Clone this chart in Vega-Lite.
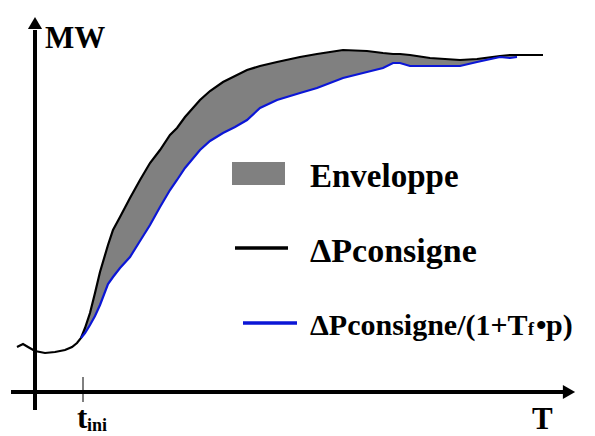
{
  "$schema": "https://vega.github.io/schema/vega-lite/v6.json",
  "width": 595,
  "height": 436,
  "padding": 0,
  "autosize": {"type": "none"},
  "background": "white",
  "config": {"view": {"stroke": null}},
  "datasets": {
    "courbes": [
      {"t": 17, "consigne": 89, "filtre": null},
      {"t": 23, "consigne": 92, "filtre": null},
      {"t": 28, "consigne": 89, "filtre": null},
      {"t": 35, "consigne": 85, "filtre": null},
      {"t": 45, "consigne": 83, "filtre": null},
      {"t": 55, "consigne": 84, "filtre": null},
      {"t": 65, "consigne": 86, "filtre": null},
      {"t": 72, "consigne": 89, "filtre": null},
      {"t": 77, "consigne": 93, "filtre": null},
      {"t": 81, "consigne": 98, "filtre": 98},
      {"t": 85, "consigne": 108, "filtre": 103},
      {"t": 90, "consigne": 123, "filtre": 111},
      {"t": 95, "consigne": 143, "filtre": 120},
      {"t": 100, "consigne": 164, "filtre": 131},
      {"t": 108, "consigne": 191, "filtre": 152},
      {"t": 113, "consigne": 206, "filtre": 159},
      {"t": 120, "consigne": 219, "filtre": 168},
      {"t": 130, "consigne": 238, "filtre": 179},
      {"t": 140, "consigne": 256, "filtre": 195},
      {"t": 150, "consigne": 273, "filtre": 211},
      {"t": 160, "consigne": 286, "filtre": 229},
      {"t": 170, "consigne": 301, "filtre": 246},
      {"t": 177, "consigne": 308, "filtre": 256},
      {"t": 185, "consigne": 319, "filtre": 268},
      {"t": 200, "consigne": 336, "filtre": 286},
      {"t": 210, "consigne": 345, "filtre": 295},
      {"t": 223, "consigne": 354, "filtre": 303},
      {"t": 235, "consigne": 360, "filtre": 309},
      {"t": 247, "consigne": 366, "filtre": 316},
      {"t": 260, "consigne": 370, "filtre": 328},
      {"t": 277, "consigne": 374, "filtre": 336},
      {"t": 300, "consigne": 379, "filtre": 343},
      {"t": 317, "consigne": 382, "filtre": 348},
      {"t": 343, "consigne": 386, "filtre": 358},
      {"t": 367, "consigne": 385, "filtre": 364},
      {"t": 383, "consigne": 383, "filtre": 368},
      {"t": 393, "consigne": 382, "filtre": 373},
      {"t": 400, "consigne": 382, "filtre": 373},
      {"t": 410, "consigne": 381, "filtre": 370},
      {"t": 430, "consigne": 378, "filtre": 370},
      {"t": 460, "consigne": 376, "filtre": 370},
      {"t": 477, "consigne": 377, "filtre": 374},
      {"t": 500, "consigne": 380, "filtre": 379},
      {"t": 510, "consigne": 381, "filtre": 378},
      {"t": 517, "consigne": 381, "filtre": 379},
      {"t": 543, "consigne": 381, "filtre": null}
    ]
  },
  "layer": [
    {
      "data": {"name": "courbes"},
      "transform": [{"filter": "isValid(datum.filtre)"}],
      "mark": {"type": "area", "color": "#808080", "opacity": 1},
      "encoding": {
        "x": {"field": "t", "type": "quantitative", "scale": {"domain": [0, 595], "nice": false, "zero": false}, "axis": null},
        "y": {"field": "consigne", "type": "quantitative", "scale": {"domain": [0, 436], "nice": false, "zero": false}, "axis": null},
        "y2": {"field": "filtre"}
      }
    },
    {
      "data": {"name": "courbes"},
      "mark": {"type": "line", "color": "#000000", "strokeWidth": 2.2},
      "encoding": {
        "x": {"field": "t", "type": "quantitative", "scale": {"domain": [0, 595], "nice": false, "zero": false}, "axis": null},
        "y": {"field": "consigne", "type": "quantitative", "scale": {"domain": [0, 436], "nice": false, "zero": false}, "axis": null}
      }
    },
    {
      "data": {"name": "courbes"},
      "transform": [{"filter": "isValid(datum.filtre)"}],
      "mark": {"type": "line", "color": "#0b16d6", "strokeWidth": 2.2},
      "encoding": {
        "x": {"field": "t", "type": "quantitative", "scale": {"domain": [0, 595], "nice": false, "zero": false}, "axis": null},
        "y": {"field": "filtre", "type": "quantitative", "scale": {"domain": [0, 436], "nice": false, "zero": false}, "axis": null}
      }
    },
    {
      "data": {"values": [
        {"x1": 11, "x2": 565, "y1": 44, "y2": 44},
        {"x1": 35, "x2": 35, "y1": 26, "y2": 406}
      ]},
      "mark": {"type": "rule", "color": "#000000", "strokeWidth": 4},
      "encoding": {
        "x": {"field": "x1", "type": "quantitative", "scale": {"domain": [0, 595], "nice": false, "zero": false}, "axis": null},
        "x2": {"field": "x2"},
        "y": {"field": "y1", "type": "quantitative", "scale": {"domain": [0, 436], "nice": false, "zero": false}, "axis": null},
        "y2": {"field": "y2"}
      }
    },
    {
      "data": {"values": [{"x1": 83, "y1": 34, "y2": 59}]},
      "mark": {"type": "rule", "color": "#000000", "strokeWidth": 1},
      "encoding": {
        "x": {"field": "x1", "type": "quantitative", "scale": {"domain": [0, 595], "nice": false, "zero": false}, "axis": null},
        "y": {"field": "y1", "type": "quantitative", "scale": {"domain": [0, 436], "nice": false, "zero": false}, "axis": null},
        "y2": {"field": "y2"}
      }
    },
    {
      "data": {"values": [{"x": 35, "y": 413}]},
      "mark": {"type": "point", "shape": "triangle-up", "filled": true, "color": "#000000", "size": 200, "opacity": 1},
      "encoding": {
        "x": {"field": "x", "type": "quantitative", "scale": {"domain": [0, 595], "nice": false, "zero": false}, "axis": null},
        "y": {"field": "y", "type": "quantitative", "scale": {"domain": [0, 436], "nice": false, "zero": false}, "axis": null}
      }
    },
    {
      "data": {"values": [{"x": 569, "y": 44}]},
      "mark": {"type": "point", "shape": "triangle-right", "filled": true, "color": "#000000", "size": 200, "opacity": 1},
      "encoding": {
        "x": {"field": "x", "type": "quantitative", "scale": {"domain": [0, 595], "nice": false, "zero": false}, "axis": null},
        "y": {"field": "y", "type": "quantitative", "scale": {"domain": [0, 436], "nice": false, "zero": false}, "axis": null}
      }
    },
    {
      "data": {"values": [{"x1": 232, "x2": 285, "y1": 251, "y2": 274}]},
      "mark": {"type": "rect", "color": "#808080"},
      "encoding": {
        "x": {"field": "x1", "type": "quantitative", "scale": {"domain": [0, 595], "nice": false, "zero": false}, "axis": null},
        "x2": {"field": "x2"},
        "y": {"field": "y1", "type": "quantitative", "scale": {"domain": [0, 436], "nice": false, "zero": false}, "axis": null},
        "y2": {"field": "y2"}
      }
    },
    {
      "data": {"values": [{"x1": 235, "x2": 288, "y": 188}]},
      "mark": {"type": "rule", "color": "#000000", "strokeWidth": 3.5},
      "encoding": {
        "x": {"field": "x1", "type": "quantitative", "scale": {"domain": [0, 595], "nice": false, "zero": false}, "axis": null},
        "x2": {"field": "x2"},
        "y": {"field": "y", "type": "quantitative", "scale": {"domain": [0, 436], "nice": false, "zero": false}, "axis": null}
      }
    },
    {
      "data": {"values": [{"x1": 243, "x2": 297, "y": 113}]},
      "mark": {"type": "rule", "color": "#0b16d6", "strokeWidth": 3.5},
      "encoding": {
        "x": {"field": "x1", "type": "quantitative", "scale": {"domain": [0, 595], "nice": false, "zero": false}, "axis": null},
        "x2": {"field": "x2"},
        "y": {"field": "y", "type": "quantitative", "scale": {"domain": [0, 436], "nice": false, "zero": false}, "axis": null}
      }
    },
    {
      "data": {"values": [
        {"x": 45, "y": 388, "label": "MW"},
        {"x": 532, "y": 7, "label": "T"},
        {"x": 77, "y": 8, "label": "t"}
      ]},
      "mark": {"type": "text", "font": "'Liberation Serif', 'Times New Roman', Times, serif", "fontWeight": "bold", "fontSize": 31, "align": "left", "baseline": "alphabetic", "color": "#000000"},
      "encoding": {
        "x": {"field": "x", "type": "quantitative", "scale": {"domain": [0, 595], "nice": false, "zero": false}, "axis": null},
        "y": {"field": "y", "type": "quantitative", "scale": {"domain": [0, 436], "nice": false, "zero": false}, "axis": null},
        "text": {"field": "label"}
      }
    },
    {
      "data": {"values": [{"x": 310, "y": 249, "label": "Enveloppe"}]},
      "mark": {"type": "text", "font": "'Liberation Serif', 'Times New Roman', Times, serif", "fontWeight": "bold", "fontSize": 33, "align": "left", "baseline": "alphabetic", "color": "#000000"},
      "encoding": {
        "x": {"field": "x", "type": "quantitative", "scale": {"domain": [0, 595], "nice": false, "zero": false}, "axis": null},
        "y": {"field": "y", "type": "quantitative", "scale": {"domain": [0, 436], "nice": false, "zero": false}, "axis": null},
        "text": {"field": "label"}
      }
    },
    {
      "data": {"values": [{"x": 310, "y": 174, "label": "ΔPconsigne"}]},
      "mark": {"type": "text", "font": "'Liberation Serif', 'Times New Roman', Times, serif", "fontWeight": "bold", "fontSize": 34, "align": "left", "baseline": "alphabetic", "color": "#000000"},
      "encoding": {
        "x": {"field": "x", "type": "quantitative", "scale": {"domain": [0, 595], "nice": false, "zero": false}, "axis": null},
        "y": {"field": "y", "type": "quantitative", "scale": {"domain": [0, 436], "nice": false, "zero": false}, "axis": null},
        "text": {"field": "label"}
      }
    },
    {
      "data": {"values": [
        {"x": 310, "y": 101, "label": "ΔPconsigne/(1+T"},
        {"x": 536, "y": 101, "label": "•"},
        {"x": 546, "y": 101, "label": "p)"}
      ]},
      "mark": {"type": "text", "font": "'Liberation Serif', 'Times New Roman', Times, serif", "fontWeight": "bold", "fontSize": 30, "align": "left", "baseline": "alphabetic", "color": "#000000"},
      "encoding": {
        "x": {"field": "x", "type": "quantitative", "scale": {"domain": [0, 595], "nice": false, "zero": false}, "axis": null},
        "y": {"field": "y", "type": "quantitative", "scale": {"domain": [0, 436], "nice": false, "zero": false}, "axis": null},
        "text": {"field": "label"}
      }
    },
    {
      "data": {"values": [
        {"x": 87, "y": 5, "label": "ini"},
        {"x": 528, "y": 101, "label": "f"}
      ]},
      "mark": {"type": "text", "font": "'Liberation Serif', 'Times New Roman', Times, serif", "fontWeight": "bold", "fontSize": 18, "align": "left", "baseline": "alphabetic", "color": "#000000"},
      "encoding": {
        "x": {"field": "x", "type": "quantitative", "scale": {"domain": [0, 595], "nice": false, "zero": false}, "axis": null},
        "y": {"field": "y", "type": "quantitative", "scale": {"domain": [0, 436], "nice": false, "zero": false}, "axis": null},
        "text": {"field": "label"}
      }
    }
  ]
}
